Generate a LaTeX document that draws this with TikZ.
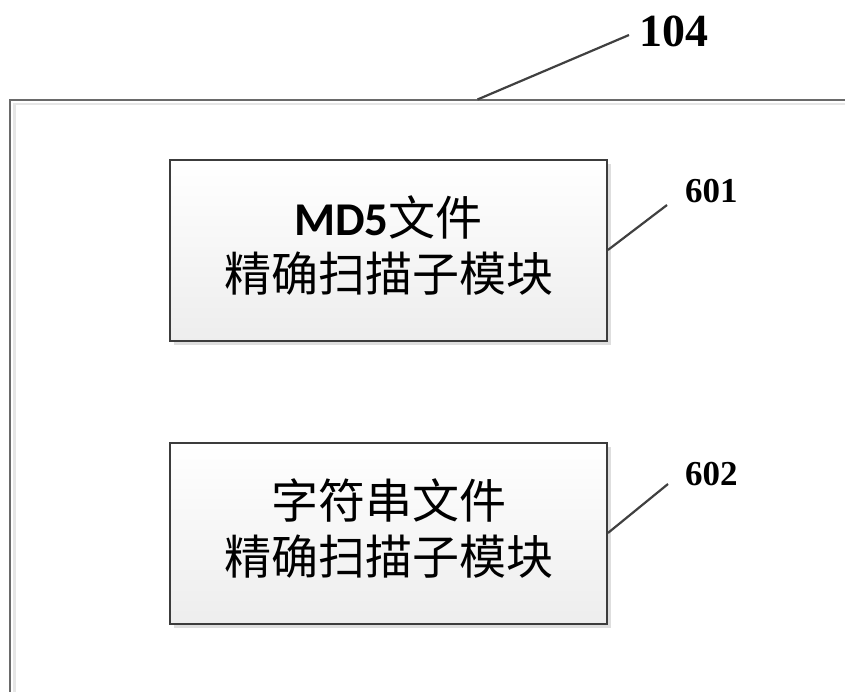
\documentclass[tikz,border=0pt]{standalone}
\usepackage{fontspec}
\setmainfont{Liberation Serif}
\newfontfamily\cjkfont{Noto Sans CJK SC}
\newfontfamily\latfont{Carlito}
\usetikzlibrary{shadows}
\definecolor{framegray}{HTML}{6A6A6A}
\definecolor{innergray}{HTML}{E6E6E6}
\definecolor{boxline}{HTML}{3C3C3C}
\definecolor{leadgray}{HTML}{404040}
\tikzset{
  modbox/.style={draw=boxline, line width=1.8pt, top color=white, bottom color=black!7,
    minimum width=437pt, minimum height=181pt, inner sep=0pt,
    drop shadow={shadow xshift=3.5pt, shadow yshift=-3.5pt, fill=black!13, opacity=1}},
  boxtext/.style={font=\cjkfont\fontsize{47}{56}\selectfont, align=center, text=black, inner sep=0pt},
  leader/.style={draw=leadgray, line width=2.2pt},
  refnum/.style={font=\bfseries, inner sep=0pt, anchor=base west, text=black}
}
\begin{document}
\begin{tikzpicture}[x=1pt,y=-1pt]
\useasboundingbox (0,0) rectangle (845,691);
\clip (0,0) rectangle (845,691);
% outer frame
\draw[innergray, line width=2.2pt] (14.5,700) |- (860,104);
\draw[framegray, line width=2pt] (10,700) |- (860,99.5);
\coordinate (f) at (477.5,99.5);
\coordinate (t104) at (629,35);
% boxes
\node[modbox] (b1) at (388.5,250.5) {};
\node[modbox] (b2) at (388.5,533.5) {};
\node[boxtext] (b1t) at ([yshift=4.5pt]b1.center) {{\latfont\bfseries MD5}文件\\精确扫描子模块};
\node[boxtext] (b2t) at ([yshift=4.5pt]b2.center) {字符串文件\\精确扫描子模块};
% labels
\node[refnum, font=\bfseries\fontsize{46}{46}\selectfont] (l104) at (639.5,46.5) {104};
\node[refnum, font=\bfseries\fontsize{35}{35}\selectfont] (l601) at (685,202) {601};
\node[refnum, font=\bfseries\fontsize{35}{35}\selectfont] (l602) at (685,485) {602};
\coordinate (t601) at (667,205);
\coordinate (t602) at (668,484);
% leaders
\draw[leader] (f) -- (t104);
\draw[leader] (b1.east |- 0,250) -- (t601);
\draw[leader] (b2.east |- 0,533) -- (t602);
\end{tikzpicture}
\end{document}
